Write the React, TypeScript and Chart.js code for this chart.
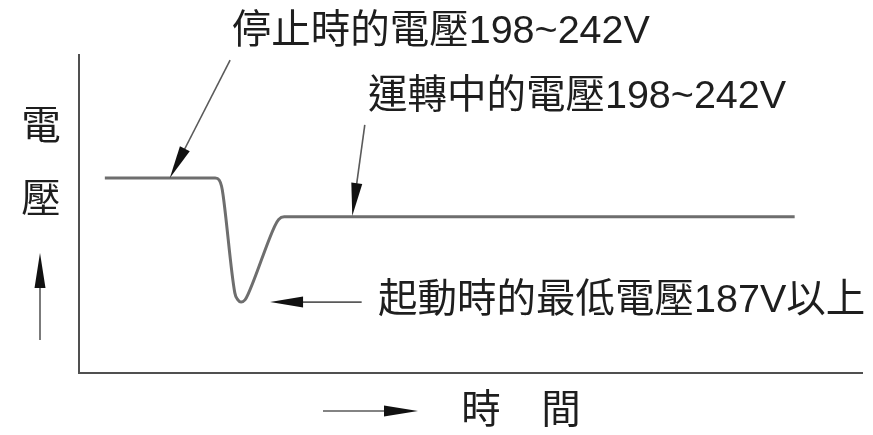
import React, { useEffect, useRef } from 'react';
import { Chart, registerables } from 'chart.js';

Chart.register(...registerables);

// Voltage curve (time in arbitrary units 0-100, voltage in arbitrary units 0-100)
const curveTime = [3.3, 17.4, 17.9, 18.2, 18.4, 19.9, 20.3, 20.7, 21.2, 21.6, 25.0, 25.5, 26.2, 91.4];
const curveVoltage = [61.3, 61.3, 60.7, 58.8, 56.0, 25.2, 23.0, 22.3, 23.0, 24.8, 46.2, 48.3, 49.1, 49.1];

// Annotations
const labelTexts = ['停止時的電壓198~242V', '運轉中的電壓198~242V', '起動時的最低電壓187V以上'];
const labelTime = [19.5, 36.9, 38.2];
const labelVoltage = [107.2, 86.8, 22.6];
const arrowFromTime = [19.3, 36.5, 36.1];
const arrowFromVoltage = [98.4, 78.0, 22.3];
const arrowToTime = [11.6, 34.9, 24.4];
const arrowToVoltage = [61.3, 49.4, 22.3];

// Axis titles
const yAxisTitle = ['電', '壓'];
const xAxisTitle = ['時', '間'];

const FONT = '39.5px "Liberation Sans", "Noto Sans CJK TC", sans-serif';
const TEXT_COLOR = '#1e1e1e';
const ARROW_LINE = '#5a5a5a';
const ARROW_HEAD = '#111';

function drawArrow(ctx: CanvasRenderingContext2D, x1: number, y1: number, x2: number, y2: number, headLen = 33, headHalf = 5.5) {
  const dx = x2 - x1;
  const dy = y2 - y1;
  const len = Math.hypot(dx, dy);
  const ux = dx / len;
  const uy = dy / len;
  const bx = x2 - ux * headLen;
  const by = y2 - uy * headLen;
  ctx.save();
  ctx.strokeStyle = ARROW_LINE;
  ctx.lineWidth = 1.6;
  ctx.beginPath();
  ctx.moveTo(x1, y1);
  ctx.lineTo(bx + ux * 4, by + uy * 4);
  ctx.stroke();
  ctx.fillStyle = ARROW_HEAD;
  ctx.beginPath();
  ctx.moveTo(x2, y2);
  ctx.lineTo(bx - uy * headHalf, by + ux * headHalf);
  ctx.lineTo(bx + uy * headHalf, by - ux * headHalf);
  ctx.closePath();
  ctx.fill();
  ctx.restore();
}

const annotationPlugin = {
  id: 'annotations',
  afterDraw(chart: any) {
    const ctx: CanvasRenderingContext2D = chart.ctx;
    const xs = chart.scales.x;
    const ys = chart.scales.y;
    const area = chart.chartArea;

    // arrows to the curve
    for (let i = 0; i < arrowFromTime.length; i++) {
      drawArrow(
        ctx,
        xs.getPixelForValue(arrowFromTime[i]),
        ys.getPixelForValue(arrowFromVoltage[i]),
        xs.getPixelForValue(arrowToTime[i]),
        ys.getPixelForValue(arrowToVoltage[i])
      );
    }

    // labels
    ctx.save();
    ctx.font = FONT;
    ctx.fillStyle = TEXT_COLOR;
    ctx.textAlign = 'left';
    ctx.textBaseline = 'middle';
    for (let i = 0; i < labelTexts.length; i++) {
      ctx.fillText(labelTexts[i], xs.getPixelForValue(labelTime[i]), ys.getPixelForValue(labelVoltage[i]));
    }

    // y axis title (vertical) + up arrow
    ctx.textAlign = 'center';
    const yx = area.left - 39;
    ctx.fillText(yAxisTitle[0], yx + 1, area.top + 73);
    ctx.fillText(yAxisTitle[1], yx + 1, area.top + 146);
    ctx.restore();
    drawArrow(ctx, yx, area.top + 285, yx, area.top + 198, 35, 5.5);

    // x axis title + right arrow
    const ty = area.bottom + 38;
    drawArrow(ctx, area.left + 244, ty, area.left + 339, ty, 34, 5.5);
    ctx.save();
    ctx.font = FONT;
    ctx.fillStyle = TEXT_COLOR;
    ctx.textAlign = 'center';
    ctx.textBaseline = 'middle';
    ctx.fillText(xAxisTitle[0], area.left + 402, ty + 1);
    ctx.fillText(xAxisTitle[1], area.left + 482, ty + 1);
    ctx.restore();
  },
};

export default function App() {
  const canvasRef = useRef<HTMLCanvasElement | null>(null);

  useEffect(() => {
    if (!canvasRef.current) return;
    const data = curveTime.map((t, i) => ({ x: t, y: curveVoltage[i] }));
    const chart = new Chart(canvasRef.current, {
      type: 'line',
      data: {
        datasets: [
          {
            data,
            borderColor: '#6e6e6e',
            borderWidth: 3,
            pointRadius: 0,
            cubicInterpolationMode: 'monotone',
            fill: false,
          },
        ],
      },
      options: {
        animation: false,
        responsive: false,
        devicePixelRatio: 1,
        layout: { padding: { left: 79, top: 55, right: 11, bottom: 62 } },
        plugins: {
          legend: { display: false },
          tooltip: { enabled: false },
          title: { display: false },
        },
        scales: {
          x: {
            type: 'linear',
            min: 0,
            max: 100,
            grid: { display: false, drawTicks: false },
            ticks: { display: false },
            border: { display: true, color: '#505050', width: 2 },
          },
          y: {
            type: 'linear',
            min: 0,
            max: 100,
            grid: { display: false, drawTicks: false },
            ticks: { display: false },
            border: { display: true, color: '#505050', width: 2 },
          },
        },
      },
      plugins: [annotationPlugin],
    });
    return () => chart.destroy();
  }, []);

  return (
    <div style={{ position: 'fixed', left: 0, top: 0, width: 873, height: 435, background: '#fff' }}>
      <canvas ref={canvasRef} width={873} height={435} style={{ display: 'block' }} />
    </div>
  );
}
